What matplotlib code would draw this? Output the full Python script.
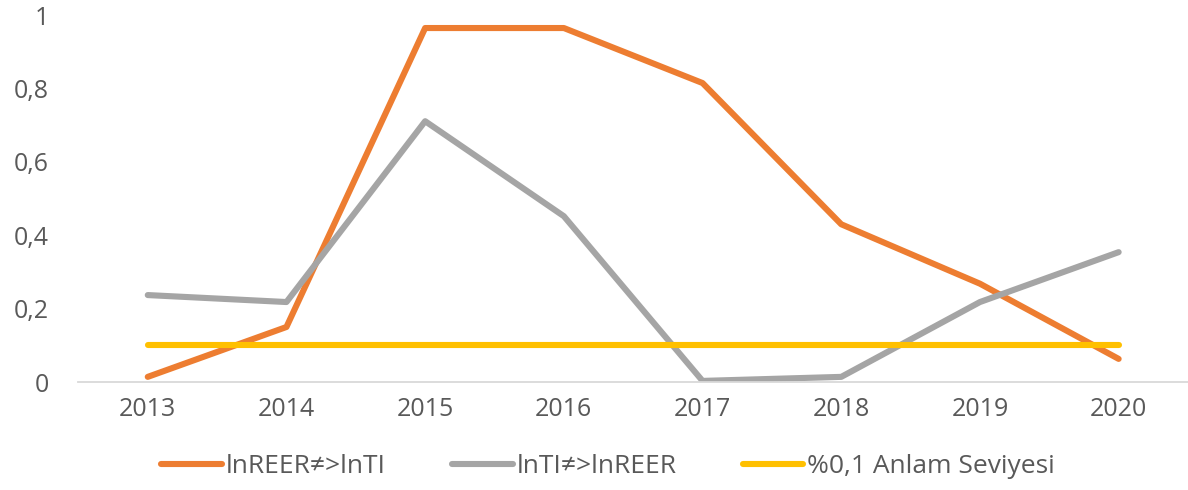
import matplotlib
matplotlib.use("Agg")
import matplotlib.pyplot as plt
from matplotlib.ticker import FuncFormatter

years = ["2013", "2014", "2015", "2016", "2017", "2018", "2019", "2020"]
reer_ti = [0.014, 0.15, 0.965, 0.965, 0.815, 0.43, 0.268, 0.063]
ti_reer = [0.237, 0.218, 0.711, 0.452, 0.003, 0.014, 0.218, 0.354]
signif = [0.1] * len(years)

plt.rcParams["font.family"] = ["Open Sans", "DejaVu Sans"]

fig = plt.figure(figsize=(11.88, 4.9), dpi=100)
ax = fig.add_axes([0.066, 0.2204, 0.934, 0.7486])

x = range(len(years))
ax.plot(x, reer_ti, color="#ED7D31", lw=4.4, solid_capstyle="round",
        solid_joinstyle="round", label="lnREER≠>lnTI")
ax.plot(x, ti_reer, color="#A5A5A5", lw=4.4, solid_capstyle="round",
        solid_joinstyle="round", label="lnTI≠>lnREER")
ax.plot(x, signif, color="#FFC000", lw=4.4, solid_capstyle="round",
        label="%0,1 Anlam Seviyesi")

ax.set_xlim(-0.5, len(years) - 0.5)
ax.set_ylim(0, 1)
ax.set_xticks(list(x))
ax.set_xticklabels(years)
ax.set_yticks([0, 0.2, 0.4, 0.6, 0.8, 1.0])
ax.yaxis.set_major_formatter(FuncFormatter(
    lambda v, p: "0" if v == 0 else ("1" if v == 1 else f"{v:.1f}".replace(".", ","))))

for s in ["top", "right", "left"]:
    ax.spines[s].set_visible(False)
ax.spines["bottom"].set_color("#D9D9D9")
ax.spines["bottom"].set_linewidth(1.3)
ax.tick_params(axis="both", length=0, labelsize=18, labelcolor="#595959")
ax.tick_params(axis="x", pad=11)
ax.tick_params(axis="y", pad=21)

leg = fig.legend(loc="center", bbox_to_anchor=(0.512, 0.047), ncol=3, frameon=False,
                 fontsize=19, handlelength=2.3, handletextpad=0.15, columnspacing=2.5)
for t in leg.get_texts():
    t.set_color("#595959")

fig.savefig("out.png", dpi=100)
